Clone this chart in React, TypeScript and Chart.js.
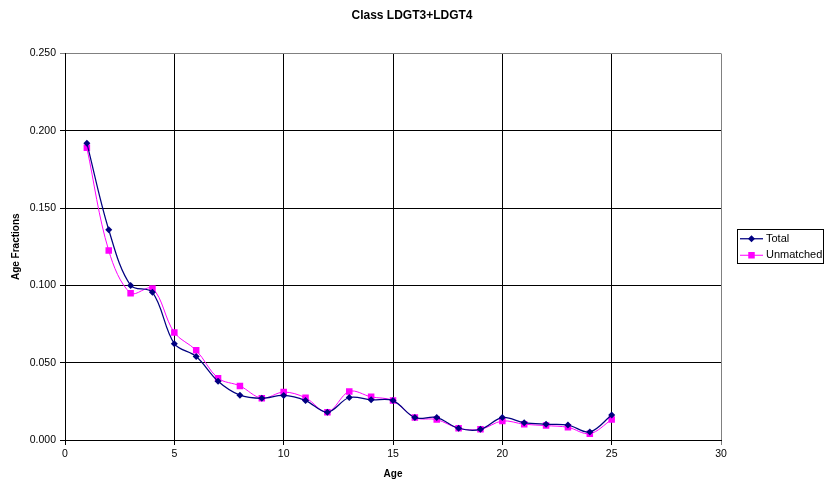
import React, { useEffect, useRef } from "react";
import { Chart, registerables } from "chart.js";

Chart.register(...registerables);

const ages = [1, 2, 3, 4, 5, 6, 7, 8, 9, 10, 11, 12, 13, 14, 15, 16, 17, 18, 19, 20, 21, 22, 23, 24, 25];
const totalValues = [0.192, 0.136, 0.100, 0.0955, 0.0623, 0.054, 0.038, 0.029, 0.027, 0.0288, 0.0255, 0.018, 0.0275, 0.026, 0.0255, 0.0145, 0.0145, 0.0076, 0.0069, 0.0145, 0.0112, 0.0102, 0.0097, 0.0052, 0.0162];
const unmatchedValues = [0.189, 0.1225, 0.095, 0.098, 0.0695, 0.058, 0.040, 0.035, 0.027, 0.031, 0.0273, 0.018, 0.0314, 0.0279, 0.0255, 0.0145, 0.0132, 0.0076, 0.0069, 0.0123, 0.0102, 0.0093, 0.0082, 0.0041, 0.0132];
const seriesLabels = ["Total", "Unmatched"];
const chartTitle = "Class LDGT3+LDGT4";
const xTitle = "Age";
const yTitle = "Age Fractions";

const FONT = "'Liberation Sans', Arial, sans-serif";

const pageTitle = {
  id: "pageTitle",
  afterDraw(chart: any) {
    const { ctx } = chart;
    ctx.save();
    ctx.fillStyle = "#000";
    ctx.font = `bold 12px ${FONT}`;
    ctx.textAlign = "center";
    ctx.textBaseline = "middle";
    ctx.fillText(chartTitle, chart.width / 2, 16);
    ctx.restore();
  },
};

const boxLegend = {
  id: "boxLegend",
  afterDraw(chart: any) {
    const { ctx, chartArea } = chart;
    const bx = chartArea.right + 16;
    const bw = 86;
    const bh = 34;
    const cy = (chartArea.top + chartArea.bottom) / 2 - 1;
    const by = cy - bh / 2;
    ctx.save();
    ctx.strokeStyle = "#000";
    ctx.lineWidth = 1;
    ctx.strokeRect(Math.round(bx) + 0.5, Math.round(by) + 0.5, bw, bh);
    chart.data.datasets.forEach((ds: any, i: number) => {
      const y = by + 10 + i * 16.5;
      ctx.strokeStyle = ds.borderColor;
      ctx.lineWidth = ds.borderWidth;
      ctx.beginPath();
      ctx.moveTo(bx + 3, y);
      ctx.lineTo(bx + 26, y);
      ctx.stroke();
      ctx.fillStyle = ds.pointBackgroundColor;
      ctx.beginPath();
      if (ds.pointStyle === "rectRot") {
        const r = ds.pointRadius;
        const x = bx + 14.5;
        ctx.moveTo(x, y - r);
        ctx.lineTo(x + r, y);
        ctx.lineTo(x, y + r);
        ctx.lineTo(x - r, y);
        ctx.closePath();
      } else {
        const s = ds.pointRadius * Math.SQRT1_2;
        ctx.rect(bx + 14.5 - s, y - s, 2 * s, 2 * s);
      }
      ctx.fill();
      ctx.fillStyle = "#000";
      ctx.font = `11px ${FONT}`;
      ctx.textBaseline = "middle";
      ctx.textAlign = "left";
      ctx.fillText(ds.label, bx + 29, y);
    });
    ctx.restore();
  },
};

export default function App() {
  const ref = useRef<HTMLCanvasElement | null>(null);
  useEffect(() => {
    if (!ref.current) return;
    const chart = new Chart(ref.current, {
      type: "line",
      data: {
        labels: ages,
        datasets: [
          {
            label: seriesLabels[0],
            data: ages.map((a, i) => ({ x: a, y: totalValues[i] })),
            borderColor: "#000080",
            backgroundColor: "#000080",
            pointBackgroundColor: "#000080",
            pointBorderColor: "#000080",
            borderWidth: 1.25,
            pointStyle: "rectRot",
            pointRadius: 3.5,
            pointBorderWidth: 0,
            tension: 0.35,
            fill: false,
          },
          {
            label: seriesLabels[1],
            data: ages.map((a, i) => ({ x: a, y: unmatchedValues[i] })),
            borderColor: "#FF00FF",
            backgroundColor: "#FF00FF",
            pointBackgroundColor: "#FF00FF",
            pointBorderColor: "#FF00FF",
            borderWidth: 1,
            pointStyle: "rect",
            pointRadius: 4.6,
            pointBorderWidth: 0,
            tension: 0.35,
            fill: false,
          },
        ],
      },
      options: {
        responsive: false,
        animation: false,
        layout: { padding: { left: 0, right: 103, top: 53.5, bottom: 0 } },
        plugins: {
          legend: { display: false },
          tooltip: { enabled: false },
          title: { display: false },
        },
        scales: {
          x: {
            type: "linear",
            min: 0,
            max: 30,
            afterFit: (s: any) => {
              s.height = 46;
            },
            ticks: {
              stepSize: 5,
              color: "#000",
              font: { family: FONT, size: 10.5 },
              padding: 3,
              maxRotation: 0,
            },
            grid: {
              color: (c: any) => (c.tick && c.tick.value === 30 ? "#808080" : "#000"),
              lineWidth: 1,
              tickLength: 5,
            },
            border: { display: true, color: "#000", width: 1 },
            title: {
              display: true,
              text: xTitle,
              color: "#000",
              font: { family: FONT, size: 10, weight: "bold" },
              padding: { top: 0, bottom: 6 },
            },
          },
          y: {
            min: 0,
            max: 0.25,
            afterFit: (s: any) => {
              s.width = 65;
            },
            ticks: {
              stepSize: 0.05,
              color: "#000",
              font: { family: FONT, size: 10.5 },
              padding: 4,
              callback: (v: any) => Number(v).toFixed(3),
            },
            grid: {
              color: (c: any) => (c.tick && c.tick.value === 0.25 ? "#808080" : "#000"),
              lineWidth: 1,
              tickLength: 5,
            },
            border: { display: true, color: "#000", width: 1 },
            title: {
              display: true,
              text: yTitle,
              color: "#000",
              font: { family: FONT, size: 10, weight: "bold" },
              padding: { top: 10, bottom: 0 },
            },
          },
        },
      },
      plugins: [pageTitle, boxLegend],
    });
    return () => chart.destroy();
  }, []);
  return (
    <canvas
      ref={ref}
      width={824}
      height={486}
      style={{ position: "absolute", left: 0, top: 0, width: 824, height: 486, background: "#fff" }}
    />
  );
}
